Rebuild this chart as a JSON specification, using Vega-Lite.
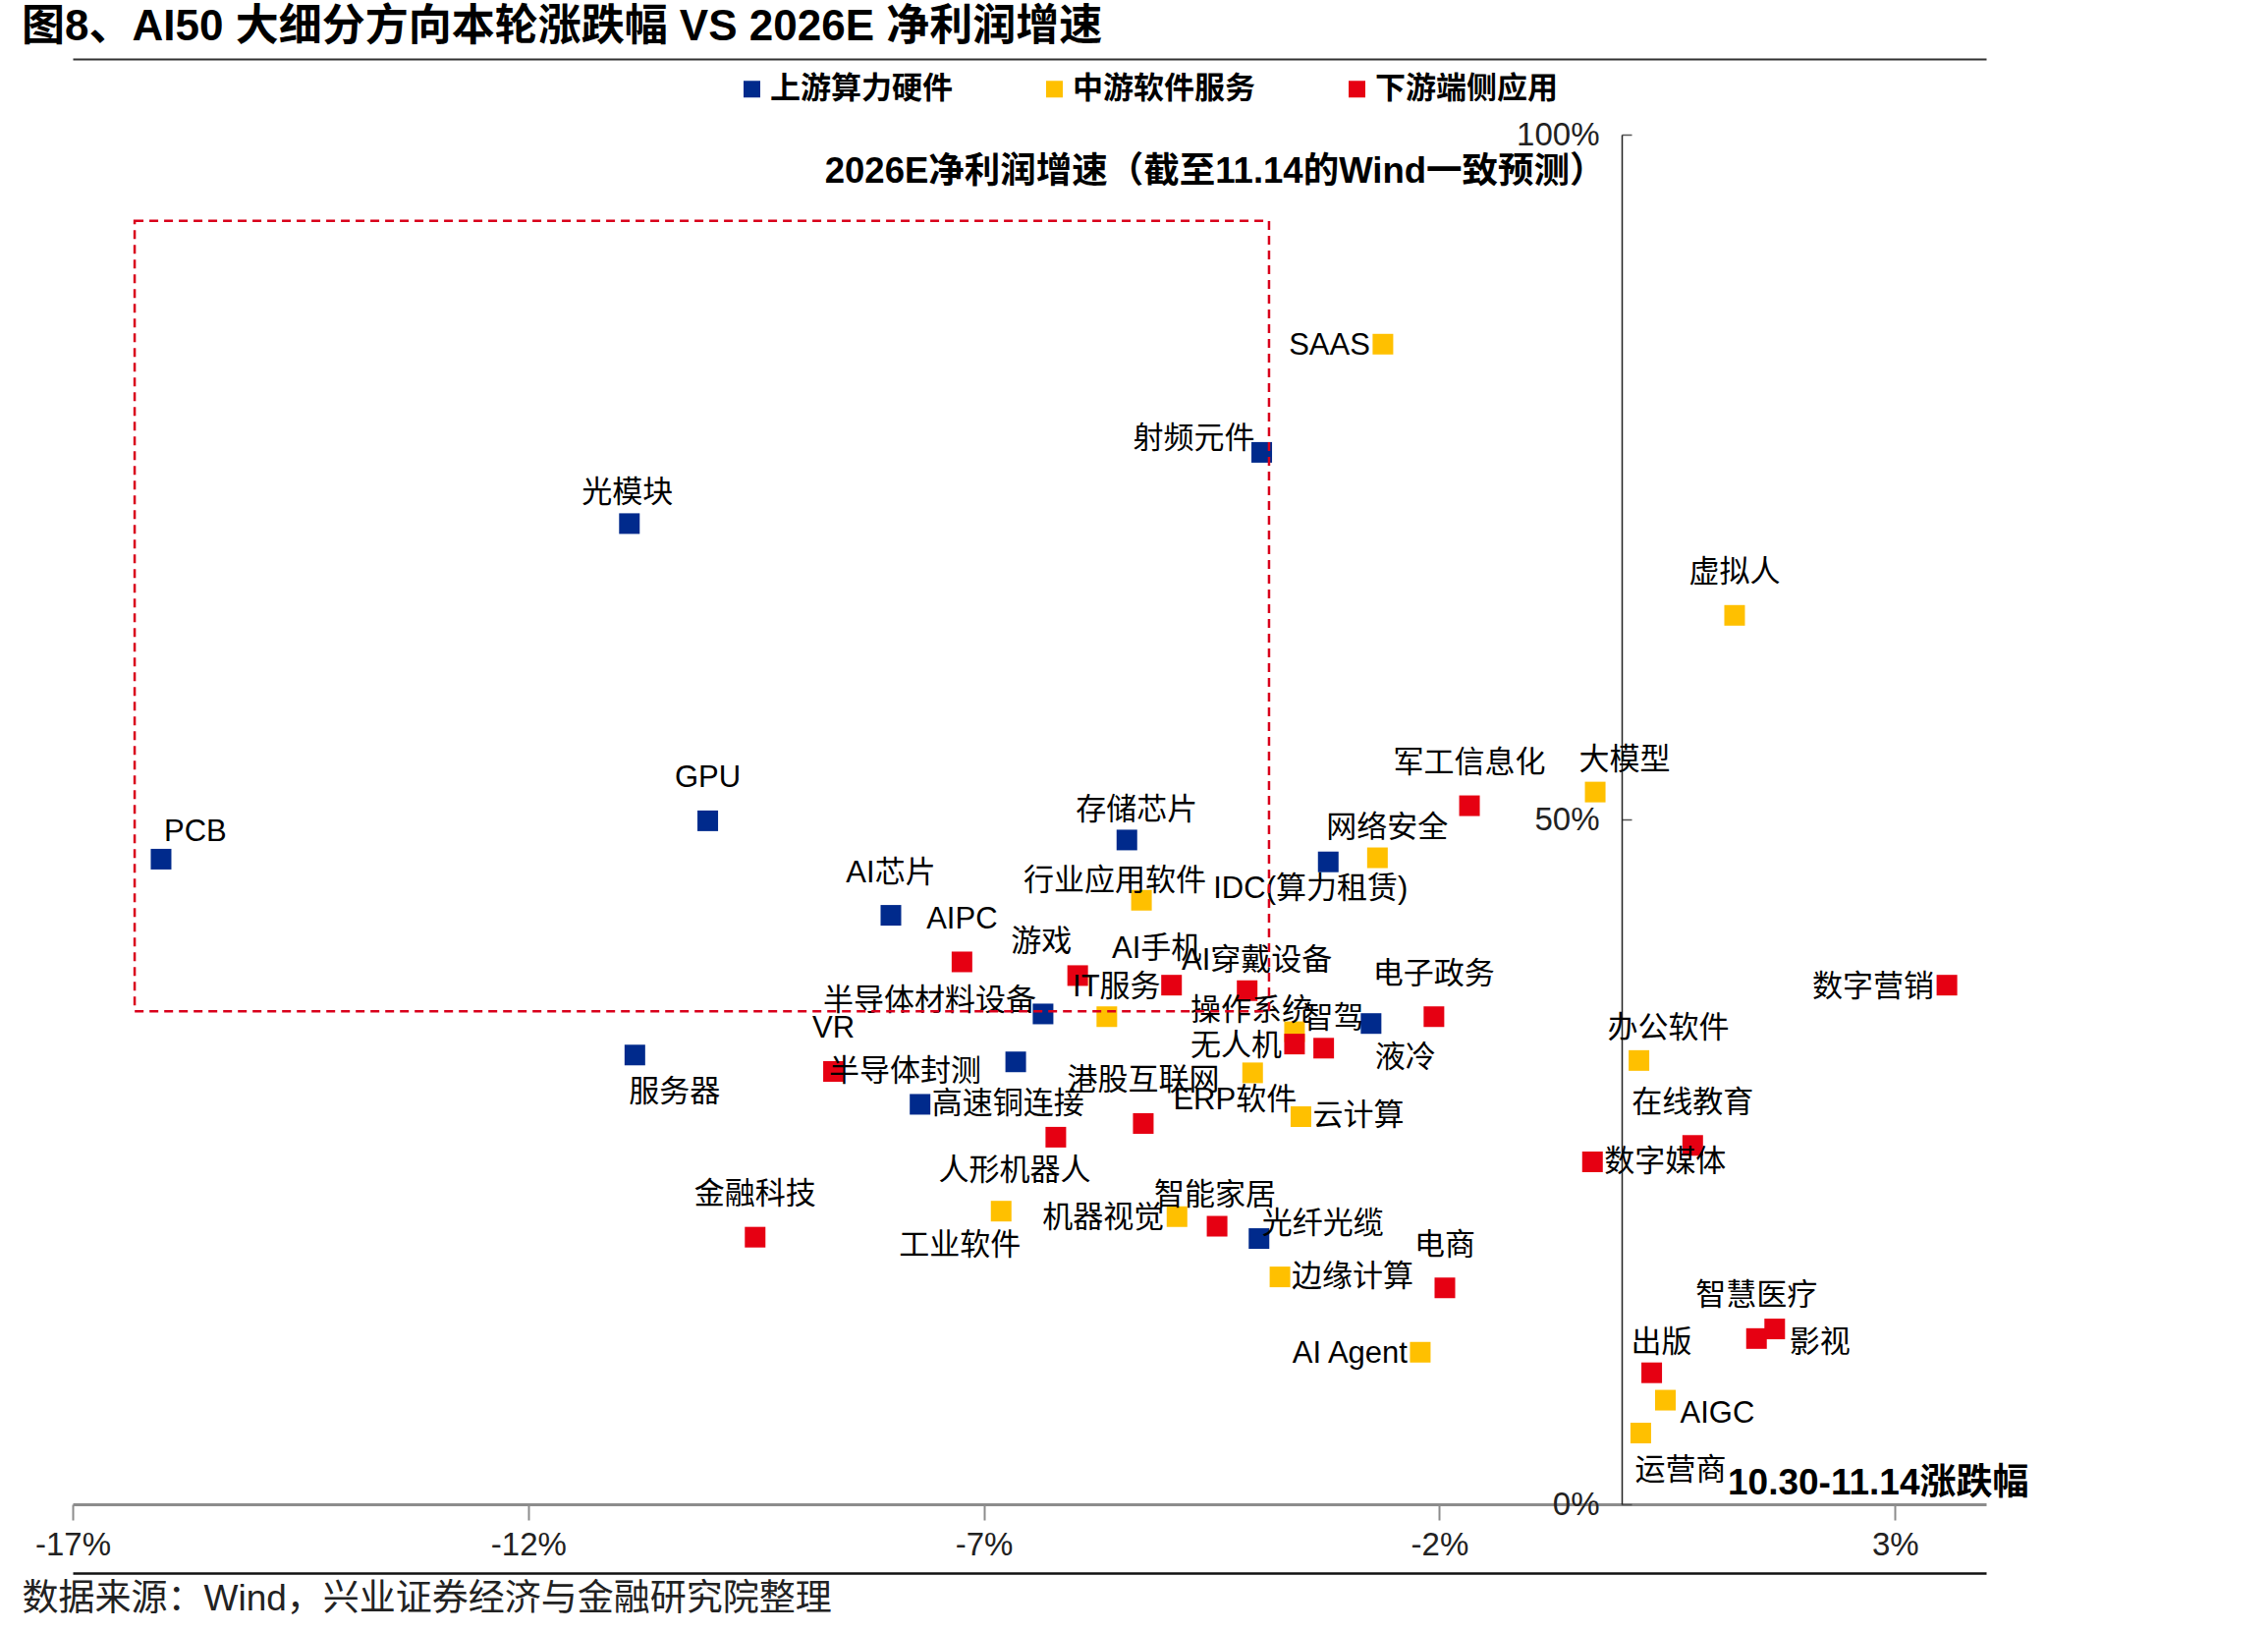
{
  "$schema": "https://vega.github.io/schema/vega-lite/v6.json",
  "width": 1948,
  "height": 1394,
  "autosize": {"type": "none"},
  "padding": {"left": 74, "top": 137, "right": 287, "bottom": 130},
  "background": "white",
  "title": {
    "text": "图8、AI50 大细分方向本轮涨跌幅 VS 2026E 净利润增速",
    "anchor": "start",
    "frame": "group",
    "dx": -52,
    "offset": 10,
    "fontSize": 44,
    "fontWeight": "bold",
    "font": "Liberation Sans, Noto Sans CJK SC",
    "color": "#000000"
  },
  "data": {
    "values": [
      {"name": "PCB", "cat": "上游算力硬件", "x": -16.03, "y": 47.1},
      {"name": "光模块", "cat": "上游算力硬件", "x": -10.89, "y": 71.6},
      {"name": "GPU", "cat": "上游算力硬件", "x": -10.03, "y": 49.9},
      {"name": "射频元件", "cat": "上游算力硬件", "x": -3.95, "y": 76.8},
      {"name": "存储芯片", "cat": "上游算力硬件", "x": -5.43, "y": 48.5},
      {"name": "AI芯片", "cat": "上游算力硬件", "x": -8.02, "y": 43.0},
      {"name": "半导体材料设备", "cat": "上游算力硬件", "x": -6.35, "y": 35.8},
      {"name": "服务器", "cat": "上游算力硬件", "x": -10.83, "y": 32.8},
      {"name": "半导体封测", "cat": "上游算力硬件", "x": -6.65, "y": 32.3},
      {"name": "高速铜连接", "cat": "上游算力硬件", "x": -7.70, "y": 29.2},
      {"name": "光纤光缆", "cat": "上游算力硬件", "x": -3.98, "y": 19.4},
      {"name": "IDC(算力租赁)", "cat": "上游算力硬件", "x": -3.22, "y": 46.9},
      {"name": "液冷", "cat": "上游算力硬件", "x": -2.75, "y": 35.1},
      {"name": "SAAS", "cat": "中游软件服务", "x": -2.62, "y": 84.7},
      {"name": "虚拟人", "cat": "中游软件服务", "x": 1.24, "y": 64.9},
      {"name": "大模型", "cat": "中游软件服务", "x": -0.29, "y": 52.0},
      {"name": "网络安全", "cat": "中游软件服务", "x": -2.68, "y": 47.2},
      {"name": "行业应用软件", "cat": "中游软件服务", "x": -5.27, "y": 44.1},
      {"name": "IT服务", "cat": "中游软件服务", "x": -5.65, "y": 35.6},
      {"name": "操作系统", "cat": "中游软件服务", "x": -3.59, "y": 34.5},
      {"name": "ERP软件", "cat": "中游软件服务", "x": -4.05, "y": 31.5},
      {"name": "云计算", "cat": "中游软件服务", "x": -3.52, "y": 28.3},
      {"name": "工业软件", "cat": "中游软件服务", "x": -6.81, "y": 21.4},
      {"name": "机器视觉", "cat": "中游软件服务", "x": -4.88, "y": 21.0},
      {"name": "边缘计算", "cat": "中游软件服务", "x": -3.75, "y": 16.6},
      {"name": "AI Agent", "cat": "中游软件服务", "x": -2.21, "y": 11.1},
      {"name": "办公软件", "cat": "中游软件服务", "x": 0.19, "y": 32.4},
      {"name": "AIGC", "cat": "中游软件服务", "x": 0.48, "y": 7.6},
      {"name": "运营商", "cat": "中游软件服务", "x": 0.21, "y": 5.2},
      {"name": "AIPC", "cat": "下游端侧应用", "x": -7.24, "y": 39.6},
      {"name": "游戏", "cat": "下游端侧应用", "x": -5.97, "y": 38.6},
      {"name": "AI手机", "cat": "下游端侧应用", "x": -4.94, "y": 37.9},
      {"name": "AI穿戴设备", "cat": "下游端侧应用", "x": -4.11, "y": 37.5},
      {"name": "电子政务", "cat": "下游端侧应用", "x": -2.06, "y": 35.6},
      {"name": "军工信息化", "cat": "下游端侧应用", "x": -1.67, "y": 51.0},
      {"name": "数字营销", "cat": "下游端侧应用", "x": 3.57, "y": 37.9},
      {"name": "在线教育", "cat": "下游端侧应用", "x": 0.78, "y": 26.2},
      {"name": "数字媒体", "cat": "下游端侧应用", "x": -0.32, "y": 25.0},
      {"name": "智慧医疗", "cat": "下游端侧应用", "x": 1.48, "y": 12.1},
      {"name": "影视", "cat": "下游端侧应用", "x": 1.68, "y": 12.8},
      {"name": "出版", "cat": "下游端侧应用", "x": 0.33, "y": 9.6},
      {"name": "电商", "cat": "下游端侧应用", "x": -1.94, "y": 15.8},
      {"name": "金融科技", "cat": "下游端侧应用", "x": -9.51, "y": 19.5},
      {"name": "VR", "cat": "下游端侧应用", "x": -8.65, "y": 31.6},
      {"name": "人形机器人", "cat": "下游端侧应用", "x": -6.21, "y": 26.8},
      {"name": "港股互联网", "cat": "下游端侧应用", "x": -5.25, "y": 27.8},
      {"name": "智能家居", "cat": "下游端侧应用", "x": -4.44, "y": 20.3},
      {"name": "无人机", "cat": "下游端侧应用", "x": -3.59, "y": 33.6},
      {"name": "智驾", "cat": "下游端侧应用", "x": -3.27, "y": 33.3}
    ]
  },
  "encoding": {
    "x": {"field": "x", "type": "quantitative", "scale": {"domain": [-17, 4], "nice": false, "zero": false}, "axis": null},
    "y": {"field": "y", "type": "quantitative", "scale": {"domain": [0, 100], "nice": false}, "axis": null}
  },
  "resolve": {"axis": {"x": "independent", "y": "independent"}},
  "layer": [
    {
      "mark": {"type": "square", "size": 441, "filled": true, "opacity": 1},
      "encoding": {
        "x": {
          "field": "x", "type": "quantitative",
          "scale": {"domain": [-17, 4], "nice": false, "zero": false},
          "axis": {
            "orient": "bottom",
            "values": [-17, -12, -7, -2, 3],
            "labelExpr": "datum.value + '%'",
            "labelFontSize": 33,
            "labelFont": "Liberation Sans",
            "labelColor": "#222222",
            "labelPadding": 9,
            "labelFlush": false,
            "tickSize": 16,
            "tickColor": "#8c8c8c",
            "tickWidth": 2,
            "domainColor": "#8c8c8c",
            "domainWidth": 3,
            "grid": false,
            "title": "10.30-11.14涨跌幅",
            "titleFont": "Liberation Sans, Noto Sans CJK SC",
            "titleFontSize": 37,
            "titleFontWeight": "bold",
            "titleColor": "#000000",
            "titleAlign": "right",
            "titleBaseline": "middle",
            "titleX": 1991,
            "titleY": -22
          }
        },
        "y": {
          "field": "y", "type": "quantitative",
          "scale": {"domain": [0, 100], "nice": false},
          "axis": {
            "orient": "left",
            "offset": -1577,
            "values": [0, 50, 100],
            "labelExpr": "datum.value + '%'",
            "labelFontSize": 33,
            "labelFont": "Liberation Sans",
            "labelColor": "#222222",
            "labelFlush": false,
            "labelPadding": 33,
            "tickSize": -10,
            "tickColor": "#555555",
            "tickWidth": 1.5,
            "domain": true,
            "domainColor": "#222222",
            "domainWidth": 1.5,
            "grid": false,
            "title": "2026E净利润增速（截至11.14的Wind一致预测）",
            "titleFont": "Liberation Sans, Noto Sans CJK SC",
            "titleFontSize": 36.5,
            "titleFontWeight": "bold",
            "titleColor": "#000000",
            "titleAngle": 0,
            "titleAlign": "right",
            "titleBaseline": "middle",
            "titleX": -17,
            "titleY": 37
          }
        },
        "color": {
          "field": "cat", "type": "nominal",
          "scale": {"domain": ["上游算力硬件", "中游软件服务", "下游端侧应用"], "range": ["#002a8c", "#ffc000", "#e60012"]},
          "legend": {
            "orient": "none",
            "legendX": 676,
            "legendY": -62,
            "direction": "horizontal",
            "title": null,
            "padding": 0,
            "symbolType": "square",
            "symbolSize": 289,
            "symbolStrokeWidth": 0,
            "labelFontSize": 31,
            "labelFontWeight": "bold",
            "labelFont": "Noto Sans CJK SC",
            "labelColor": "#000000",
            "labelOffset": 3,
            "columnPadding": 88,
            "labelLimit": 400
          }
        }
      }
    },
    {
      "transform": [{"filter": {"field": "name", "oneOf": ["GPU", "AI芯片", "虚拟人", "AIPC", "电子政务", "军工信息化", "在线教育", "智慧医疗", "电商", "金融科技", "VR", "港股互联网"]}}],
      "mark": {"type": "text", "align": "center", "baseline": "middle", "dx": 0, "dy": -43, "fontSize": 31, "font": "Liberation Sans, Noto Sans CJK SC", "color": "#000000"},
      "encoding": {
        "text": {"field": "name"},
        "x": {
          "field": "x", "type": "quantitative",
          "scale": {"domain": [-17, 4], "nice": false, "zero": false},
          "axis": {"orient": "top", "offset": 77, "domain": true, "domainColor": "#333333", "domainWidth": 2, "ticks": false, "labels": false, "grid": false, "title": null}
        }
      }
    },
    {
      "transform": [{"filter": {"field": "name", "oneOf": ["光模块", "智能家居"]}}],
      "mark": {"type": "text", "align": "center", "baseline": "middle", "dx": -2, "dy": -31, "fontSize": 31, "font": "Liberation Sans, Noto Sans CJK SC", "color": "#000000"},
      "encoding": {"text": {"field": "name"}}
    },
    {
      "transform": [{"filter": {"field": "name", "oneOf": ["存储芯片", "网络安全", "IT服务", "AI穿戴设备", "出版", "智驾"]}}],
      "mark": {"type": "text", "align": "center", "baseline": "middle", "dx": 10, "dy": -30, "fontSize": 31, "font": "Liberation Sans, Noto Sans CJK SC", "color": "#000000"},
      "encoding": {"text": {"field": "name"}}
    },
    {
      "transform": [{"filter": {"field": "name", "oneOf": ["AI手机"]}}],
      "mark": {"type": "text", "align": "center", "baseline": "middle", "dx": -15, "dy": -37, "fontSize": 31, "font": "Liberation Sans, Noto Sans CJK SC", "color": "#000000"},
      "encoding": {"text": {"field": "name"}}
    },
    {
      "transform": [{"filter": {"field": "name", "oneOf": ["游戏"]}}],
      "mark": {"type": "text", "align": "center", "baseline": "middle", "dx": -37, "dy": -34, "fontSize": 31, "font": "Liberation Sans, Noto Sans CJK SC", "color": "#000000"},
      "encoding": {"text": {"field": "name"}}
    },
    {
      "transform": [{"filter": {"field": "name", "oneOf": ["大模型", "办公软件"]}}],
      "mark": {"type": "text", "align": "center", "baseline": "middle", "dx": 30, "dy": -32, "fontSize": 31, "font": "Liberation Sans, Noto Sans CJK SC", "color": "#000000"},
      "encoding": {"text": {"field": "name"}}
    },
    {
      "transform": [{"filter": {"field": "name", "oneOf": ["行业应用软件"]}}],
      "mark": {"type": "text", "align": "center", "baseline": "middle", "dx": -27, "dy": -19, "fontSize": 31, "font": "Liberation Sans, Noto Sans CJK SC", "color": "#000000"},
      "encoding": {"text": {"field": "name"}}
    },
    {
      "transform": [{"filter": {"field": "name", "oneOf": ["操作系统"]}}],
      "mark": {"type": "text", "align": "center", "baseline": "middle", "dx": -44, "dy": -21, "fontSize": 31, "font": "Liberation Sans, Noto Sans CJK SC", "color": "#000000"},
      "encoding": {"text": {"field": "name"}}
    },
    {
      "transform": [{"filter": {"field": "name", "oneOf": ["IDC(算力租赁)", "ERP软件"]}}],
      "mark": {"type": "text", "align": "center", "baseline": "middle", "dx": -18, "dy": 28, "fontSize": 31, "font": "Liberation Sans, Noto Sans CJK SC", "color": "#000000"},
      "encoding": {"text": {"field": "name"}}
    },
    {
      "transform": [{"filter": {"field": "name", "oneOf": ["工业软件", "人形机器人"]}}],
      "mark": {"type": "text", "align": "center", "baseline": "middle", "dx": -42, "dy": 35, "fontSize": 31, "font": "Liberation Sans, Noto Sans CJK SC", "color": "#000000"},
      "encoding": {"text": {"field": "name"}}
    },
    {
      "transform": [{"filter": {"field": "name", "oneOf": ["液冷"]}}],
      "mark": {"type": "text", "align": "center", "baseline": "middle", "dx": 35, "dy": 35, "fontSize": 31, "font": "Liberation Sans, Noto Sans CJK SC", "color": "#000000"},
      "encoding": {"text": {"field": "name"}}
    },
    {
      "transform": [{"filter": {"field": "name", "oneOf": ["SAAS", "数字营销", "无人机", "AI Agent", "机器视觉"]}}],
      "mark": {"type": "text", "align": "right", "baseline": "middle", "dx": -13, "dy": 2, "fontSize": 31, "font": "Liberation Sans, Noto Sans CJK SC", "color": "#000000"},
      "encoding": {"text": {"field": "name"}}
    },
    {
      "transform": [{"filter": {"field": "name", "oneOf": ["射频元件", "半导体材料设备"]}}],
      "mark": {"type": "text", "align": "right", "baseline": "middle", "dx": -7, "dy": -13, "fontSize": 31, "font": "Liberation Sans, Noto Sans CJK SC", "color": "#000000"},
      "encoding": {"text": {"field": "name"}}
    },
    {
      "transform": [{"filter": {"field": "name", "oneOf": ["半导体封测"]}}],
      "mark": {"type": "text", "align": "right", "baseline": "middle", "dx": -35, "dy": 10, "fontSize": 31, "font": "Liberation Sans, Noto Sans CJK SC", "color": "#000000"},
      "encoding": {"text": {"field": "name"}}
    },
    {
      "transform": [{"filter": {"field": "name", "oneOf": ["云计算", "边缘计算", "数字媒体", "高速铜连接"]}}],
      "mark": {"type": "text", "align": "left", "baseline": "middle", "dx": 12, "dy": 0, "fontSize": 31, "font": "Liberation Sans, Noto Sans CJK SC", "color": "#000000"},
      "encoding": {"text": {"field": "name"}}
    },
    {
      "transform": [{"filter": {"field": "name", "oneOf": ["AIGC", "影视"]}}],
      "mark": {"type": "text", "align": "left", "baseline": "middle", "dx": 15, "dy": 14, "fontSize": 31, "font": "Liberation Sans, Noto Sans CJK SC", "color": "#000000"},
      "encoding": {"text": {"field": "name"}}
    },
    {
      "transform": [{"filter": {"field": "name", "oneOf": ["光纤光缆"]}}],
      "mark": {"type": "text", "align": "left", "baseline": "middle", "dx": 3, "dy": -15, "fontSize": 31, "font": "Liberation Sans, Noto Sans CJK SC", "color": "#000000"},
      "encoding": {"text": {"field": "name"}}
    },
    {
      "transform": [{"filter": {"field": "name", "oneOf": ["服务器", "运营商"]}}],
      "mark": {"type": "text", "align": "left", "baseline": "middle", "dx": -6, "dy": 38, "fontSize": 31, "font": "Liberation Sans, Noto Sans CJK SC", "color": "#000000"},
      "encoding": {"text": {"field": "name"}}
    },
    {
      "transform": [{"filter": {"field": "name", "oneOf": ["PCB"]}}],
      "mark": {"type": "text", "align": "left", "baseline": "middle", "dx": 3, "dy": -27, "fontSize": 31, "font": "Liberation Sans, Noto Sans CJK SC", "color": "#000000"},
      "encoding": {"text": {"field": "name"}}
    },
    {
      "data": {"values": [{"region": "重点区域", "x": -16.32, "xEnd": -3.87, "y": 36.0, "yEnd": 93.7}]},
      "mark": {"type": "rect", "filled": false, "stroke": "#d9001b", "strokeWidth": 2.5, "strokeDash": [9, 6], "fill": null},
      "encoding": {
        "x": {
          "field": "x", "type": "quantitative",
          "scale": {"domain": [-17, 4], "nice": false, "zero": false},
          "axis": {
            "orient": "bottom",
            "offset": 70,
            "domain": true,
            "domainColor": "#111111",
            "domainWidth": 2.5,
            "ticks": false,
            "labels": false,
            "grid": false,
            "title": "数据来源：Wind，兴业证券经济与金融研究院整理",
            "titleFont": "Liberation Sans, Noto Sans CJK SC",
            "titleFontSize": 37,
            "titleFontWeight": "normal",
            "titleColor": "#222222",
            "titleAlign": "left",
            "titleBaseline": "middle",
            "titleX": -52,
            "titleY": 26
          }
        },
        "x2": {"field": "xEnd"},
        "y": {"field": "y", "type": "quantitative", "axis": null},
        "y2": {"field": "yEnd"}
      }
    }
  ],
  "config": {
    "view": {"stroke": null},
    "font": "Liberation Sans, Noto Sans CJK SC"
  }
}
